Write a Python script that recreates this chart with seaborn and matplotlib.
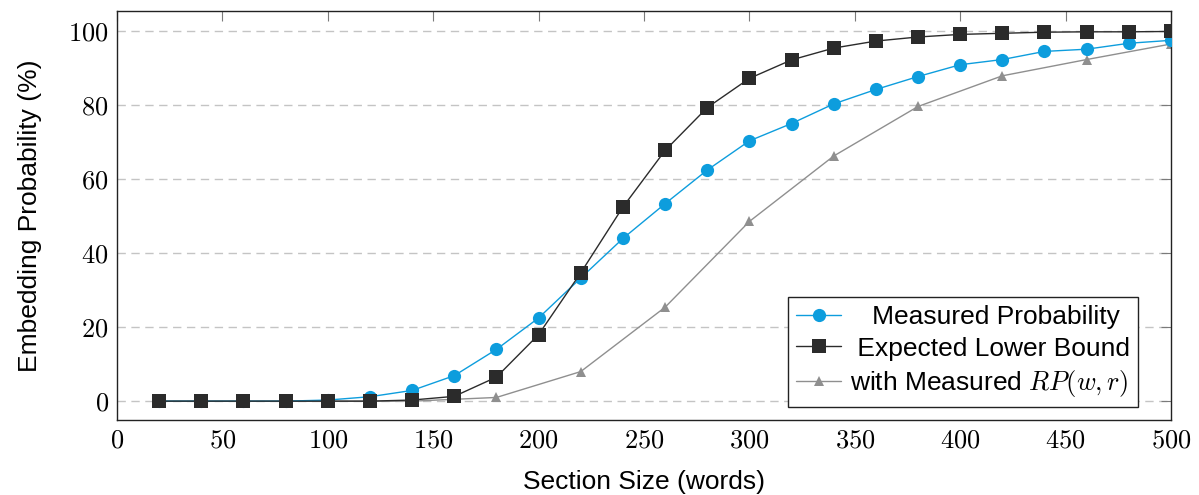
import numpy as np
import pandas as pd
import matplotlib
matplotlib.use('Agg')
import matplotlib.pyplot as plt
from matplotlib.ticker import FuncFormatter
import seaborn as sns

# section sizes (words)
sizes = [20, 40, 60, 80, 100, 120, 140, 160, 180, 200, 220, 240, 260,
         280, 300, 320, 340, 360, 380, 400, 420, 440, 460, 480, 500]
measured = [0, 0, 0, 0, 0.3, 1.2, 2.9, 6.9, 14.0, 22.5, 33.3, 44.0, 53.4,
            62.5, 70.4, 75.1, 80.4, 84.3, 87.8, 91.0, 92.4, 94.6, 95.2, 96.8, 97.6]
lower_bound = [0, 0, 0, 0, 0, 0, 0.3, 1.3, 6.5, 18.0, 34.7, 52.5, 67.8,
               79.4, 87.3, 92.3, 95.5, 97.4, 98.5, 99.2, 99.5, 99.8, 99.9, 99.9, 100]

rp_sizes = [20, 60, 100, 140, 180, 220, 260, 300, 340, 380, 420, 460, 500]
rp_bound = [0, 0, 0, 0, 1.0, 8.0, 25.4, 48.6, 66.3, 79.7, 88.0, 92.4, 96.6]

labels = ['Measured Probability', 'Expected Lower Bound', 'with Measured $RP(w,r)$']

sns.set_style('white')
plt.rcParams['font.family'] = ['Liberation Sans', 'DejaVu Sans']
plt.rcParams['mathtext.fontset'] = 'cm'
plt.rcParams['text.color'] = 'black'
plt.rcParams['axes.labelcolor'] = 'black'
plt.rcParams['xtick.color'] = 'black'
plt.rcParams['ytick.color'] = 'black'

FS = 19

fig = plt.figure(figsize=(11.99, 4.95), dpi=100)
ax = fig.add_axes([0.0976, 0.1515, 0.8790, 0.8253])

d1 = pd.DataFrame({'x': sizes, 'y': measured})
d2 = pd.DataFrame({'x': sizes, 'y': lower_bound})
d3 = pd.DataFrame({'x': rp_sizes, 'y': rp_bound})

# pad labels so they look centred in the legend, like pgfplots
sns.lineplot(data=d1, x='x', y='y', ax=ax, color='#0d9ddd', lw=1.0,
             marker='o', markersize=9.5, markeredgewidth=0,
             label='   ' + labels[0], zorder=3)
sns.lineplot(data=d2, x='x', y='y', ax=ax, color='#2b2b2b', lw=1.0,
             marker='s', markersize=9.5, markeredgewidth=0,
             label=' ' + labels[1], zorder=4)
sns.lineplot(data=d3, x='x', y='y', ax=ax, color='#8f8f8f', lw=1.0,
             marker='^', markersize=7, markeredgewidth=0,
             label=labels[2], zorder=2)

ax.set_xlim(0, 500)
ax.set_ylim(-5.1, 105.4)
ax.set_xticks(np.arange(0, 501, 50))
ax.set_yticks(np.arange(0, 101, 20))
fmt = FuncFormatter(lambda v, p: '$%d$' % int(round(v)))
ax.xaxis.set_major_formatter(fmt)
ax.yaxis.set_major_formatter(fmt)
ax.yaxis.grid(True, linestyle=(0, (6, 4)), color='#c4c4c4', lw=1.0)
ax.xaxis.grid(False)
ax.set_axisbelow(True)

ax.tick_params(direction='in', length=7, width=0.8, color='#7a7a7a',
               top=True, right=True, labelsize=FS, pad=6)
for s in ax.spines.values():
    s.set_color('#222222')
    s.set_linewidth(1.0)

ax.set_xlabel('Section Size (words)', fontsize=FS, labelpad=13)
ax.set_ylabel('Embedding Probability (%)', fontsize=FS, labelpad=19)

leg = ax.legend(loc='lower right', bbox_to_anchor=(0.969, 0.032), fontsize=FS,
                frameon=True, fancybox=False, framealpha=1, edgecolor='#222222',
                borderpad=0.3, labelspacing=0.28, handlelength=1.7,
                handletextpad=0.35, borderaxespad=0)
leg.get_frame().set_linewidth(1.0)

fig.savefig('out.png', dpi=100)
plt.close(fig)
